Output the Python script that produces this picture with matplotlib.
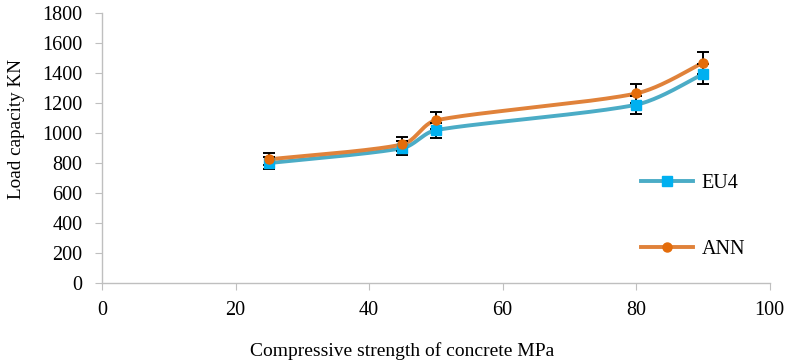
import matplotlib
matplotlib.use("Agg")
import matplotlib.pyplot as plt
import numpy as np

plt.rcParams['font.family'] = ['Liberation Serif', 'DejaVu Serif']

strength = [25, 45, 50, 80, 90]
eu4 = [800, 900, 1020, 1190, 1395]
ann = [825, 925, 1085, 1265, 1470]
err_pct = 0.05

# axis pixel scale, used so the smoothing behaves like Excel's (screen space)
XS = 668 / 100.0
YS = 269 / 1800.0


def smooth(x, y, n=40):
    # Excel-like smoothed line through the points
    pts = np.column_stack([np.array(x) * XS, np.array(y) * YS]).astype(float)
    p = np.vstack([pts[0], pts, pts[-1]])
    out = []
    t = np.linspace(0, 1, n)[:, None]
    for i in range(1, len(p) - 2):
        p0, p1, p2, p3 = p[i - 1], p[i], p[i + 1], p[i + 2]
        seg_len = np.hypot(*(p2 - p1))
        d1 = (p2 - p0) / 6
        d2 = (p3 - p1) / 6
        # keep control points from running past the segment
        lim = seg_len / 3
        if np.hypot(*d1) > lim:
            d1 = d1 * lim / np.hypot(*d1)
        if np.hypot(*d2) > lim:
            d2 = d2 * lim / np.hypot(*d2)
        c1 = p1 + d1
        c2 = p2 - d2
        seg = ((1 - t) ** 3) * p1 + 3 * ((1 - t) ** 2) * t * c1 + 3 * (1 - t) * t ** 2 * c2 + t ** 3 * p2
        out.append(seg)
    out = np.vstack(out)
    return out[:, 0] / XS, out[:, 1] / YS


fig = plt.figure(figsize=(7.91, 3.63), dpi=100)
ax = fig.add_axes([0.129, 0.221, 0.844, 0.742])

series = [("EU4", eu4, "#4BACC6", "#00B0F0", "s", 6.5),
          ("ANN", ann, "#E0823A", "#E46C0A", "o", 6.5)]
for name, vals, lc, mc, mk, ms in series:
    sx, sy = smooth(strength, vals)
    ax.plot(sx, sy, color=lc, lw=2.8, zorder=2)
    yerr = [v * err_pct for v in vals]
    ax.errorbar(strength, vals, yerr=yerr, fmt="none", ecolor="black",
                elinewidth=1.4, capsize=4.5, capthick=1.4, zorder=3)
    ax.plot(strength, vals, ls="none", marker=mk, ms=ms, color=mc, zorder=4)
    ax.plot([], [], color=lc, lw=2.8, marker=mk, ms=ms, mfc=mc, mec=mc, label=name)

ax.set_xlim(0, 100)
ax.set_ylim(0, 1800)
ax.set_xticks(np.arange(0, 101, 20))
ax.set_yticks(np.arange(0, 1801, 200))
for s in ["top", "right"]:
    ax.spines[s].set_visible(False)
for s in ["left", "bottom"]:
    ax.spines[s].set_color("#BFBFBF")
    ax.spines[s].set_linewidth(1.0)
ax.tick_params(colors="#BFBFBF", labelcolor="black", labelsize=14.5, length=5)
ax.tick_params(axis="x", pad=8)
ax.tick_params(axis="y", pad=9)

ax.set_xlabel("Compressive strength of concrete MPa", fontsize=14)
ax.xaxis.set_label_coords(0.45, -0.22)
ax.set_ylabel("Load capacity KN", fontsize=13.8)
ax.yaxis.set_label_coords(-0.116, 0.57)

ax.legend(loc="upper left", bbox_to_anchor=(0.78, 0.47), frameon=False,
          fontsize=14.5, labelspacing=2.3, handlelength=2.6, handletextpad=0.4)

fig.savefig("out.png", dpi=100)
